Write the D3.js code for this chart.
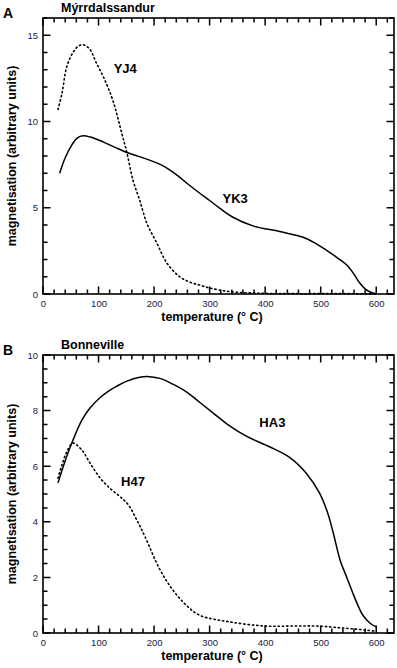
<!DOCTYPE html>
<html>
<head>
<meta charset="utf-8">
<script src="https://cdn.jsdelivr.net/npm/d3@7"></script>
<style>
  body { margin: 0; background: #fff; }
  text { font-family: "Liberation Sans", Arial, sans-serif; }
</style>
</head>
<body>
<svg></svg>
<script>
// panel A, Mýrrdalssandur
const tempYK3 = [30, 40, 52, 62, 72, 85, 108, 130, 151, 172, 192, 212, 228, 243, 258, 280, 300, 320, 342, 378, 426, 467, 490, 510, 530, 547, 560, 570, 580, 590, 600];
const magYK3  = [7.0, 7.9, 8.65, 9.05, 9.17, 9.1, 8.82, 8.5, 8.2, 7.98, 7.76, 7.5, 7.2, 6.85, 6.45, 5.9, 5.42, 4.93, 4.45, 3.95, 3.62, 3.3, 2.95, 2.55, 2.1, 1.68, 1.15, 0.65, 0.3, 0.1, 0.0];
const tempYJ4 = [27, 34, 43, 54, 63, 72, 84, 96, 110, 126, 142, 151, 162, 174, 187, 205, 223, 246, 265, 282, 300, 336, 396, 450, 500, 550, 600];
const magYJ4  = [10.7, 11.6, 13.2, 14.0, 14.35, 14.45, 14.2, 13.4, 12.5, 11.2, 9.3, 8.2, 6.6, 5.45, 4.1, 2.95, 1.8, 1.0, 0.68, 0.52, 0.35, 0.14, 0.04, 0.02, 0.02, 0.02, 0.0];

// panel B, Bonneville
const tempHA3 = [27, 40, 54, 70, 85, 103, 118, 133, 150, 174, 192, 212, 234, 260, 282, 306, 336, 367, 408, 444, 474, 498, 512, 522, 535, 547, 558, 568, 576, 589, 600];
const magHA3  = [5.4, 6.2, 6.94, 7.66, 8.1, 8.47, 8.7, 8.88, 9.05, 9.2, 9.22, 9.15, 8.95, 8.65, 8.3, 7.92, 7.45, 7.07, 6.7, 6.32, 5.75, 5.03, 4.35, 3.65, 2.62, 2.0, 1.43, 0.95, 0.64, 0.35, 0.22];
const tempH47 = [27, 34, 43, 54, 70, 85, 103, 121, 139, 154, 169, 184, 210, 234, 258, 282, 336, 400, 450, 493, 540, 583, 600];
const magH47  = [5.57, 6.04, 6.52, 6.83, 6.58, 6.1, 5.57, 5.2, 4.9, 4.6, 4.06, 3.45, 2.3, 1.54, 1.0, 0.64, 0.4, 0.25, 0.25, 0.25, 0.18, 0.1, 0.06];

const xTicks = [0, 100, 200, 300, 400, 500, 600];
const yTicksA = [0, 5, 10, 15];
const yTicksB = [0, 2, 4, 6, 8, 10];

const width = 397, height = 668;
const svg = d3.select("svg").attr("width", width).attr("height", height);

const panels = [
  { letter: "A", title: "Mýrrdalssandur", top: 18, bottom: 294, ymax: 16, yTicks: yTicksA, minorStep: 1,
    series: [
      { t: tempYK3, m: magYK3, dash: null, name: "YK3", lx: 346, ly: 5.3 },
      { t: tempYJ4, m: magYJ4, dash: "1.3,3", name: "YJ4", lx: 148, ly: 12.8 }
    ] },
  { letter: "B", title: "Bonneville", top: 355, bottom: 633, ymax: 10, yTicks: yTicksB, minorStep: 0.5,
    series: [
      { t: tempHA3, m: magHA3, dash: null, name: "HA3", lx: 413, ly: 7.4 },
      { t: tempH47, m: magH47, dash: "1.3,3", name: "H47", lx: 162, ly: 5.3 }
    ] }
];

const left = 43, right = 394;

// tick marks, one path for all four sides of a panel
let tickPath = (g, segs) => {
  g.append("path")
    .attr("d", segs.map(s => `M${s[0]},${s[1]}L${s[2]},${s[3]}`).join(""))
    .attr("fill", "none").attr("stroke", "#000").attr("stroke-width", 1.5);
};

panels.forEach(p => {
  const x = d3.scaleLinear().domain([0, 632]).range([left, right]);
  const y = d3.scaleLinear().domain([0, p.ymax]).range([p.bottom, p.top]);
  const g = svg.append("g");

  // letter and title
  g.append("text").attr("x", 3).attr("y", p.top)
    .attr("font-size", 14).attr("font-weight", "bold").text(p.letter);
  g.append("text").attr("x", 61).attr("y", p.top - 6)
    .attr("font-size", 12.5).attr("font-weight", "bold").text(p.title);

  const xAll = d3.range(0, 621, 20);
  const yAll = d3.range(0, p.ymax + 0.001, p.minorStep);
  const isMajY = v => p.yTicks.some(t => Math.abs(t - v) < 1e-6);

  const segs = [];
  xAll.forEach(v => {
    const len = v % 100 === 0 ? 7.5 : 4.5;
    segs.push([x(v), p.bottom, x(v), p.bottom - len]);
    segs.push([x(v), p.top, x(v), p.top + len]);
  });
  yAll.forEach(v => {
    const len = isMajY(v) ? 7.5 : 4.5;
    segs.push([left, y(v), left + len, y(v)]);
    segs.push([right, y(v), right - len, y(v)]);
  });
  tickPath(g, segs);

  // tick labels from the axis generators
  const bx = g.append("g").attr("transform", `translate(0,${p.bottom})`)
    .call(d3.axisBottom(x).tickValues(xTicks).tickSize(0).tickPadding(6));
  const ly = g.append("g").attr("transform", `translate(${left},0)`)
    .call(d3.axisLeft(y).tickValues(p.yTicks).tickSize(0).tickPadding(5));
  [bx, ly].forEach(a => {
    a.select(".domain").remove();
    a.selectAll(".tick text").attr("fill", "#1a2040").attr("font-size", 9.5)
      .attr("font-family", "Liberation Sans, Arial, sans-serif");
  });

  // axis titles
  g.append("text").attr("x", 212).attr("y", p.bottom + 27)
    .attr("text-anchor", "middle").attr("font-size", 12.5).attr("font-weight", "bold")
    .text("temperature (° C)");
  g.append("text")
    .attr("transform", `translate(16,${(p.top + p.bottom) / 2}) rotate(-90)`)
    .attr("text-anchor", "middle").attr("font-size", 12.5).attr("font-weight", "bold")
    .text("magnetisation (arbitrary units)");

  // curves
  const line = d3.line().x(d => x(d[0])).y(d => y(d[1])).curve(d3.curveCatmullRom.alpha(0.5));
  p.series.forEach(s => {
    const pts = s.t.map((t, i) => [t, s.m[i]]);
    const path = g.append("path").attr("d", line(pts))
      .attr("fill", "none").attr("stroke", "#000")
      .attr("stroke-width", s.dash ? 1.6 : 1.5);
    if (s.dash) path.attr("stroke-dasharray", s.dash).attr("stroke-linecap", "round");
    g.append("text").attr("x", x(s.lx)).attr("y", y(s.ly))
      .attr("text-anchor", "middle").attr("font-size", 13).attr("font-weight", "bold")
      .text(s.name);
  });

  // frame
  g.append("rect").attr("x", left).attr("y", p.top)
    .attr("width", right - left).attr("height", p.bottom - p.top)
    .attr("fill", "none").attr("stroke", "#000").attr("stroke-width", 1.6);
});
</script>
</body>
</html>
